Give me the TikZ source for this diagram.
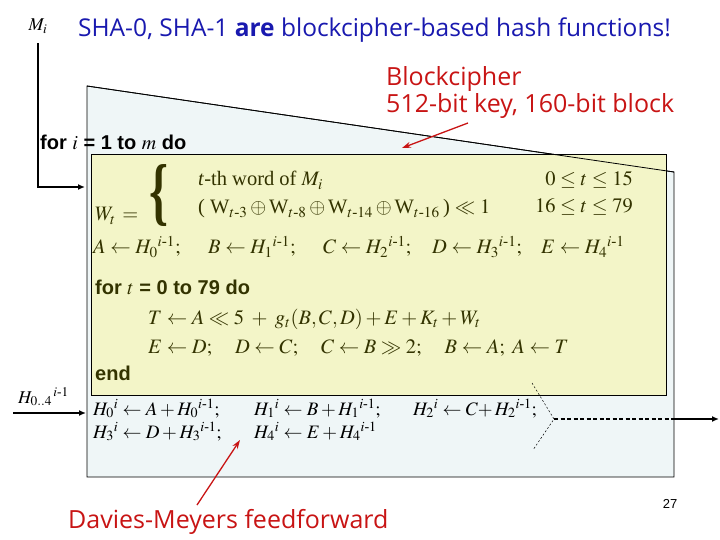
\documentclass[tikz,border=0pt]{standalone}
\usepackage{amsmath}
\usepackage{graphicx}
\usepackage{mathptmx}
\usepackage{fontspec}
\setmainfont{Liberation Serif}
\setsansfont{Liberation Sans}
\newfontfamily\notefont{Open Sans}
\usetikzlibrary{arrows.meta}

\definecolor{boxblue}{RGB}{239,246,247}
\definecolor{boxyellow}{RGB}{243,245,200}
\definecolor{olivetext}{RGB}{51,51,0}
\definecolor{titleblue}{RGB}{25,25,175}
\definecolor{notered}{RGB}{200,20,20}

% superscript set after the subscript
\newcommand{\Hsub}[2]{H_{#1}{}^{#2}}

\begin{document}
\begin{tikzpicture}[
    x=1pt, y=-1pt, % pixel-like units, y going down
    txt/.style={anchor=base west, inner sep=0pt, font=\fontsize{20.5}{23}\selectfont},
    olive/.style={txt, text=olivetext},
    feed/.style={anchor=base west, inner sep=0pt, font=\fontsize{19}{21}\selectfont},
    algo/.style={anchor=base west, inner sep=0pt, text=olivetext,
        font=\sffamily\bfseries\fontsize{20}{22}\selectfont},
    note/.style={anchor=base west, inner sep=0pt, text=notered,
        font=\notefont\fontsize{25}{27}\selectfont, align=left},
    flow/.style={-{Latex[length=7pt,width=6pt]}, line width=1.6pt},
    redarrow/.style={-{Stealth[length=9pt,width=6pt]}, draw=notered, line width=1.3pt},
    guide/.style={black, line width=0.5pt, dash pattern=on 2pt off 2pt}
]
\useasboundingbox (0,0) rectangle (720,540);

% Boxes
\draw[fill=boxblue, line width=0.8pt] (87,86) -- (674,172) -- (674,477) -- (87,477) -- cycle;
\draw[fill=boxyellow, line width=0.8pt] (91,154) rectangle (666,395);
\draw[line width=0.8pt] (87,86) -- (674,172); % slanted top over the yellow box

% Title and notes
\node[anchor=base west, inner sep=0pt, text=titleblue, font=\notefont\fontsize{24.5}{26}\selectfont]
    (title) at (78,37) {SHA-0, SHA-1 \textbf{are} blockcipher-based hash functions!};
\node[note] (cipherNote) at (386,113) {Blockcipher\\512-bit key, 160-bit block};
\node[note] (ffNote) at (68,528) {Davies-Meyers feedforward};
\node[anchor=base, inner sep=0pt, font=\sffamily\fontsize{13}{15}\selectfont] (page) at (670,508) {27};

% Inputs
\node[txt, anchor=base, font=\fontsize{18}{20}\selectfont] (Mi) at (38,31) {$M_i$};
\coordinate (inW) at (85,187);
\draw[flow, shorten <=9pt] (Mi.south) |- (inW);
\node[txt, font=\fontsize{18}{20}\selectfont] (Hprev) at (18,403) {$\Hsub{0..4}{\,i\text{-}1}$};
\coordinate (hStart) at (13,413);
\coordinate (hIn) at (86,413);
\draw[flow] (hStart) -- (hIn);

% Outer loop
\node[anchor=base west, inner sep=0pt, font=\sffamily\bfseries\fontsize{20}{22}\selectfont]
    (forI) at (40,150) {for $i$ = 1 to $m$ do};

% Message schedule
\node[olive] (Wt) at (95,221) {$W_t\, =$};
\node[text=olivetext, inner sep=0pt] (brace) at (159,196)
    {\resizebox*{19pt}{62pt}{\bfseries\{}};
\node[olive] (wordA) at (198,186) {\textit{t}-th word of $M_i$};
\node[olive] (wordB) at (198,214)
    {( W$_{t\text{-}3}\oplus{}$W$_{t\text{-}8}\oplus{}$W$_{t\text{-}14}\oplus{}$W$_{t\text{-}16}$\,) $\ll 1$};
\node[olive, anchor=base east] (rangeA) at (633,186) {$0 \le t \le 15$};
\node[olive, anchor=base east] (rangeB) at (633,213) {$16 \le t \le 79$};

% Chaining value into registers
\node[olive] (initA) at (93,254) {$A \leftarrow \Hsub{0}{i\text{-}1};$};
\node[olive] (initB) at (208,254) {$B \leftarrow \Hsub{1}{i\text{-}1};$};
\node[olive] (initC) at (323,254) {$C \leftarrow \Hsub{2}{i\text{-}1};$};
\node[olive] (initD) at (432,254) {$D \leftarrow \Hsub{3}{i\text{-}1};$};
\node[olive] (initE) at (541,254) {$E \leftarrow \Hsub{4}{i\text{-}1}$};

% Rounds
\node[algo] (forT) at (95,294) {for $t$ = 0 to 79 do};
\node[olive] (stepT) at (148,324) {$T \leftarrow A \ll 5\; +\; g_t(B, C, D) + E + K_t + W_t$};
\node[olive] (stepRot) at (148,353)
    {$E \leftarrow D;\quad D \leftarrow C;\quad C \leftarrow B \gg 2;\quad B \leftarrow A;\ A \leftarrow T$};
\node[algo] (endT) at (95,380) {end};

% Feedforward
\node[feed] (outH0) at (93,415) {$\Hsub{0}{i} \leftarrow A + \Hsub{0}{i\text{-}1};$};
\node[feed] (outH1) at (254,415) {$\Hsub{1}{i} \leftarrow B + \Hsub{1}{i\text{-}1};$};
\node[feed] (outH2) at (413,415) {$\Hsub{2}{i} \leftarrow C{+}\, \Hsub{2}{i\text{-}1};$};
\node[feed] (outH3) at (93,438) {$\Hsub{3}{i} \leftarrow D + \Hsub{3}{i\text{-}1};$};
\node[feed] (outH4) at (254,438) {$\Hsub{4}{i} \leftarrow E + \Hsub{4}{i\text{-}1}$};

% Output
\coordinate (join) at (554,419);
\coordinate (boxR) at (673,419);
\coordinate (outR) at (719,419);
\coordinate (guideUp) at (532,383);
\coordinate (guideDown) at (533,450);
\draw[guide] (guideUp) -- (join) -- (guideDown);
\draw[line width=1.6pt, dash pattern=on 4pt off 2.5pt] (join) -- (boxR);
\draw[flow] (boxR) -- (outR);

% Note arrows
\coordinate (cipherFrom) at (468,123);
\coordinate (cipherTip) at (402,148);
\draw[redarrow] (cipherFrom) -- (cipherTip);
\coordinate (ffFrom) at (197,505);
\coordinate (ffTip) at (240,440);
\draw[redarrow] (ffFrom) -- (ffTip);

\end{tikzpicture}
\end{document}
